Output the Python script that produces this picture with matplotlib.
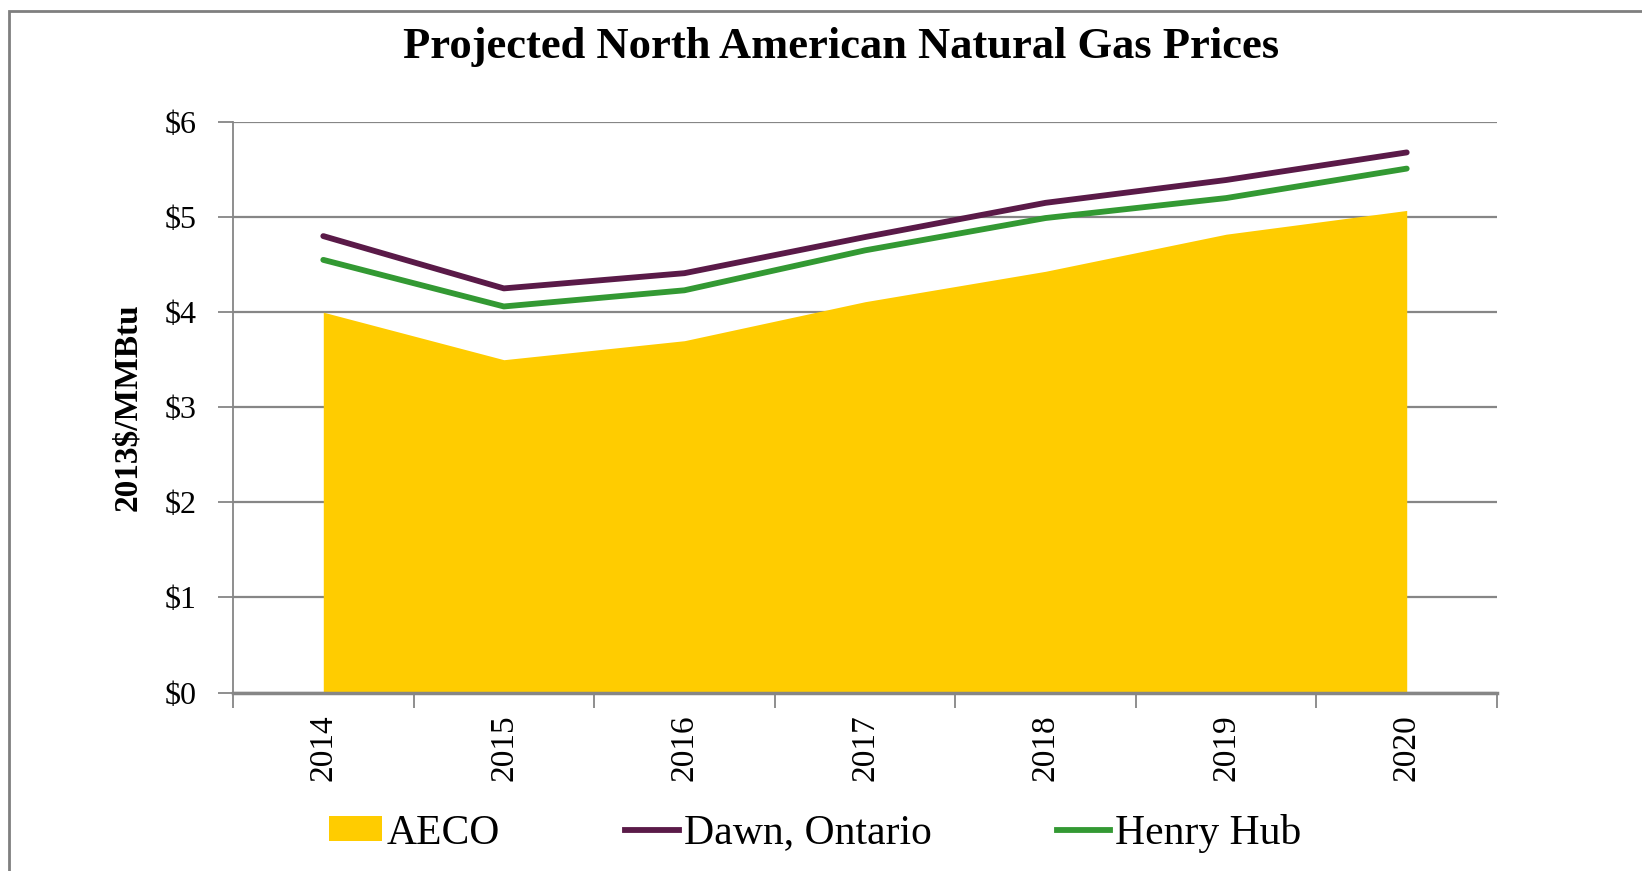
import matplotlib
matplotlib.use("Agg")
import matplotlib.pyplot as plt
from matplotlib.patches import Rectangle
from matplotlib.lines import Line2D
from matplotlib.patches import Patch

years = ["2014", "2015", "2016", "2017", "2018", "2019", "2020"]
aeco = [4.00, 3.50, 3.70, 4.11, 4.43, 4.82, 5.07]
dawn = [4.80, 4.25, 4.41, 4.79, 5.15, 5.39, 5.68]
henry = [4.55, 4.06, 4.23, 4.65, 4.99, 5.20, 5.51]
yticks = [0, 1, 2, 3, 4, 5, 6]
ytick_labels = ["$0", "$1", "$2", "$3", "$4", "$5", "$6"]

C_AECO = "#FFCC00"
C_DAWN = "#5A1A48"
C_HENRY = "#339933"
GRAY = "#868686"
SERIF = ["Liberation Serif", "DejaVu Serif"]

W, H = 1642, 871
fig = plt.figure(figsize=(W / 100, H / 100), dpi=100)
plt.rcParams['font.family'] = SERIF

# outer chart border
fig.patches.append(Rectangle((9 / W, -0.05), 1.2, 1 - 11 / H + 0.05,
                             transform=fig.transFigure, fill=False,
                             edgecolor="#7F7F7F", linewidth=2.0))

ax = fig.add_axes([233 / W, 1 - 692.5 / H, (1497 - 233) / W, (692.5 - 122) / H])
x = list(range(len(years)))

ax.fill_between(x, 0, aeco, color=C_AECO, linewidth=0, zorder=2)
ax.plot(x, dawn, color=C_DAWN, linewidth=4.2, solid_capstyle="round", zorder=3)
ax.plot(x, henry, color=C_HENRY, linewidth=4.2, solid_capstyle="round", zorder=3)

ax.set_xlim(-0.5, len(years) - 0.5)
ax.set_ylim(0, 6)

ax.set_yticks(yticks)
ax.set_yticklabels(ytick_labels, fontsize=23)
ax.yaxis.grid(True, color=GRAY, linewidth=1.6, zorder=1)
ax.set_axisbelow(True)

ax.set_xticks([i - 0.5 for i in range(len(years) + 1)])
ax.set_xticklabels([])
ax.set_xticks(x, minor=True)
ax.set_xticklabels(years, minor=True, rotation=90, fontsize=24)
ax.tick_params(axis="x", which="major", length=11, width=1.3, color=GRAY)
ax.tick_params(axis="x", which="minor", length=0, pad=16)
ax.tick_params(axis="y", which="major", length=11, width=1.3, color=GRAY, pad=15)

for s in ["top", "right"]:
    ax.spines[s].set_visible(False)
ax.spines["left"].set_color(GRAY)
ax.spines["left"].set_linewidth(1.3)
ax.spines["bottom"].set_color(GRAY)
ax.spines["bottom"].set_linewidth(2.5)
ax.spines["bottom"].set_zorder(4)

ax.set_ylabel("2013$/MMBtu", fontsize=24, fontweight="bold", labelpad=16)

fig.text(841 / W, 1 - 47 / H, "Projected North American Natural Gas Prices",
         ha="center", va="center", fontsize=32, fontweight="bold")

handles = [Patch(facecolor=C_AECO, edgecolor="none"),
           Line2D([0], [0], color=C_DAWN, linewidth=4.2),
           Line2D([0], [0], color=C_HENRY, linewidth=4.2)]
labels = ["AECO", "Dawn, Ontario", "Henry Hub"]
fig.legend(handles, labels, loc="center", bbox_to_anchor=(815 / W, 1 - 833 / H),
           ncol=3, frameon=False, fontsize=30, handlelength=1.28,
           handletextpad=0.12, columnspacing=3.0, handleheight=0.55)

fig.savefig("out.png", dpi=100)
